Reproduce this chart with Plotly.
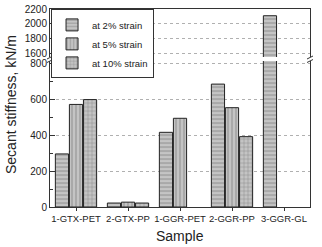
import plotly.graph_objects as go

categories = ["1-GTX-PET", "2-GTX-PP", "1-GGR-PET", "2-GGR-PP", "3-GGR-GL"]
strain2 = [295, 22, 415, 683, 2110]
strain5 = [570, 27, 493, 552, None]
strain10 = [597, 22, None, 391, None]
series_names = ["at 2% strain", "at 5% strain", "at 10% strain"]
series_vals = [strain2, strain5, strain10]
patterns = ["-", "|", "+"]

W, H = 322, 247
ml, mr, mt, mb = 50, 12, 9, 40
pw, ph = W - ml - mr, H - mt - mb

fig = go.Figure()
for name, vals, pat in zip(series_names, series_vals, patterns):
    for ax, show in (("y", True), ("y2", False)):
        fig.add_trace(go.Bar(
            x=categories, y=vals, name=name, showlegend=show,
            xaxis="x" if ax == "y" else "x2", yaxis=ax, legendgroup=name,
            marker=dict(color="#c4c4c4",
                        line=dict(color="#222222", width=1),
                        pattern=dict(shape=pat, fgcolor="#555555", bgcolor="#c4c4c4",
                                     size=4, solidity=0.25)),
        ))

font = "Liberation Sans, Arial, sans-serif"
lower_dom = [0, 0.737]
upper_dom = [0.758, 1]
grid = dict(showgrid=True, gridcolor="#b0b0b0", griddash="dot", gridwidth=1)

fig.update_layout(
    width=W, height=H,
    margin=dict(l=ml, r=mr, t=mt, b=mb, autoexpand=False),
    paper_bgcolor="white", plot_bgcolor="white",
    barmode="group", bargap=0.19, bargroupgap=0.06,
    font=dict(family=font, size=10, color="#222"),
    xaxis=dict(domain=[0, 1], anchor="y", showline=True, linecolor="#333", linewidth=1,
               ticks="outside", ticklen=3, tickcolor="#333", showgrid=False,
               tickfont=dict(size=9.5), range=[-0.5, 4.5], automargin=False),
    xaxis2=dict(domain=[0, 1], anchor="y2", matches="x", side="top", showline=True,
                linecolor="#333", linewidth=1, showticklabels=False, ticks="",
                showgrid=False, automargin=False),
    yaxis=dict(domain=lower_dom, range=[0, 811], showline=True, mirror=True,
               linecolor="#333", linewidth=1, ticks="inside", ticklen=5, tickcolor="#333",
               tickvals=[0, 200, 400, 600, 800],
               minor=dict(tickvals=[100, 300, 500, 700], ticks="inside", ticklen=3,
                          tickcolor="#333"),
               zeroline=False, tickfont=dict(size=10), automargin=False, **grid),
    yaxis2=dict(domain=upper_dom, range=[1560, 2200], showline=True, mirror=True,
                linecolor="#333", linewidth=1, ticks="inside", ticklen=5, tickcolor="#333",
                tickvals=[1600, 1800, 2000, 2200],
                zeroline=False, tickfont=dict(size=10), automargin=False, **grid),
    legend=dict(x=0.004, y=0.998, xanchor="left", yanchor="top",
                bordercolor="#333", borderwidth=1, bgcolor="white",
                font=dict(size=9.5), tracegroupgap=0, itemwidth=30,
                traceorder="normal"),
)

def px_x(p):
    return (p - ml) / pw

def px_y(p):
    return (H - mb - p) / ph

shapes = []
for xp in (ml, W - mr):
    for yp in (57.5, 61):
        shapes.append(dict(type="line", xref="paper", yref="paper",
                           x0=px_x(xp - 3), y0=px_y(yp + 1.5),
                           x1=px_x(xp + 3), y1=px_y(yp - 1.5),
                           line=dict(color="#333", width=1)))
fig.update_layout(shapes=shapes)

fig.add_annotation(text="Secant stiffness, kN/m", xref="paper", yref="paper",
                   x=px_x(11), y=px_y(105), textangle=-90, showarrow=False,
                   font=dict(size=14, family=font, color="#222"),
                   xanchor="center", yanchor="middle")
fig.add_annotation(text="Sample", xref="paper", yref="paper",
                   x=0.5, y=px_y(236), showarrow=False,
                   font=dict(size=14, family=font, color="#222"),
                   xanchor="center", yanchor="middle")

fig.write_html("out.html", config={"displayModeBar": False},
               post_script="document.body.style.margin='0';document.body.style.overflow='hidden';")
